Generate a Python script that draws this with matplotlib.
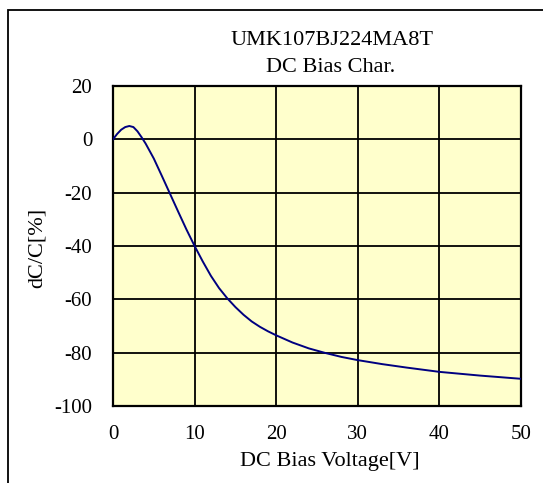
"""DC bias characteristic of UMK107BJ224MA8T, redrawn with matplotlib (Agg)."""

import matplotlib

matplotlib.use("Agg")
import matplotlib.pyplot as plt  # noqa: E402
from matplotlib.patches import Rectangle  # noqa: E402

# DC bias voltage [V] and capacitance change [%]
bias_v = [0, 0.5, 1, 1.5, 2, 2.5, 3, 3.5, 4, 5, 6, 7, 8, 9, 10, 11, 12, 13, 14, 15,
          16, 17, 18, 19, 20, 22, 24, 26, 28, 30, 33, 36, 40, 45, 50]
dc_over_c = [0, 2.0, 3.6, 4.6, 5.0, 4.6, 3.0, 0.8, -1.6, -7.2, -13.8, -20.5, -27.2,
             -33.8, -40, -45.8, -51.2, -55.8, -59.6, -62.9, -65.8, -68.3, -70.3,
             -72.0, -73.5, -76.2, -78.4, -80.1, -81.6, -82.8, -84.3, -85.6, -87.2,
             -88.6, -89.8]
x_ticks = [0, 10, 20, 30, 40, 50]
y_ticks = [20, 0, -20, -40, -60, -80, -100]

W, H = 543, 483
plt.rcParams["font.family"] = ["Liberation Serif", "DejaVu Serif"]
plt.rcParams["axes.unicode_minus"] = False

fig = plt.figure(figsize=(W / 100, H / 100), dpi=100)
ax = fig.add_axes([113 / W, 1 - 406 / H, (521 - 113) / W, (406 - 86) / H])

ax.set_facecolor("#FFFFCC")
ax.plot(bias_v, dc_over_c, color="#000080", lw=1.4, zorder=3)
ax.set_xlim(0, 50)
ax.set_ylim(-100, 20)
ax.set_xticks(x_ticks)
ax.set_yticks(y_ticks)
ax.grid(True, color="black", lw=1.3, zorder=1)
ax.set_axisbelow(True)
ax.tick_params(length=0, labelsize=15)
ax.tick_params(axis="x", pad=14)
ax.tick_params(axis="y", pad=15)
for sp in ax.spines.values():
    sp.set_linewidth(1.6)

fs = 16
fig.text(332 / W, 1 - 45 / H, "UMK107BJ224MA8T", ha="center", va="baseline", fontsize=fs)
fig.text(331 / W, 1 - 72.5 / H, "DC Bias Char.", ha="center", va="baseline", fontsize=fs)
fig.text(330 / W, 1 - 466 / H, "DC Bias Voltage[V]", ha="center", va="baseline", fontsize=fs)
fig.text(37 / W, 1 - 248 / H, "dC/C[%]", ha="center", va="center", rotation=90, fontsize=fs)

# outer frame that runs off the right and bottom edges
fig.patches.append(Rectangle((8 / W, -0.05), 1.1, 1 - 10 / H + 0.05, transform=fig.transFigure,
                             fill=False, edgecolor="black", lw=1.3))

fig.savefig("out.png", dpi=100)
plt.close(fig)
